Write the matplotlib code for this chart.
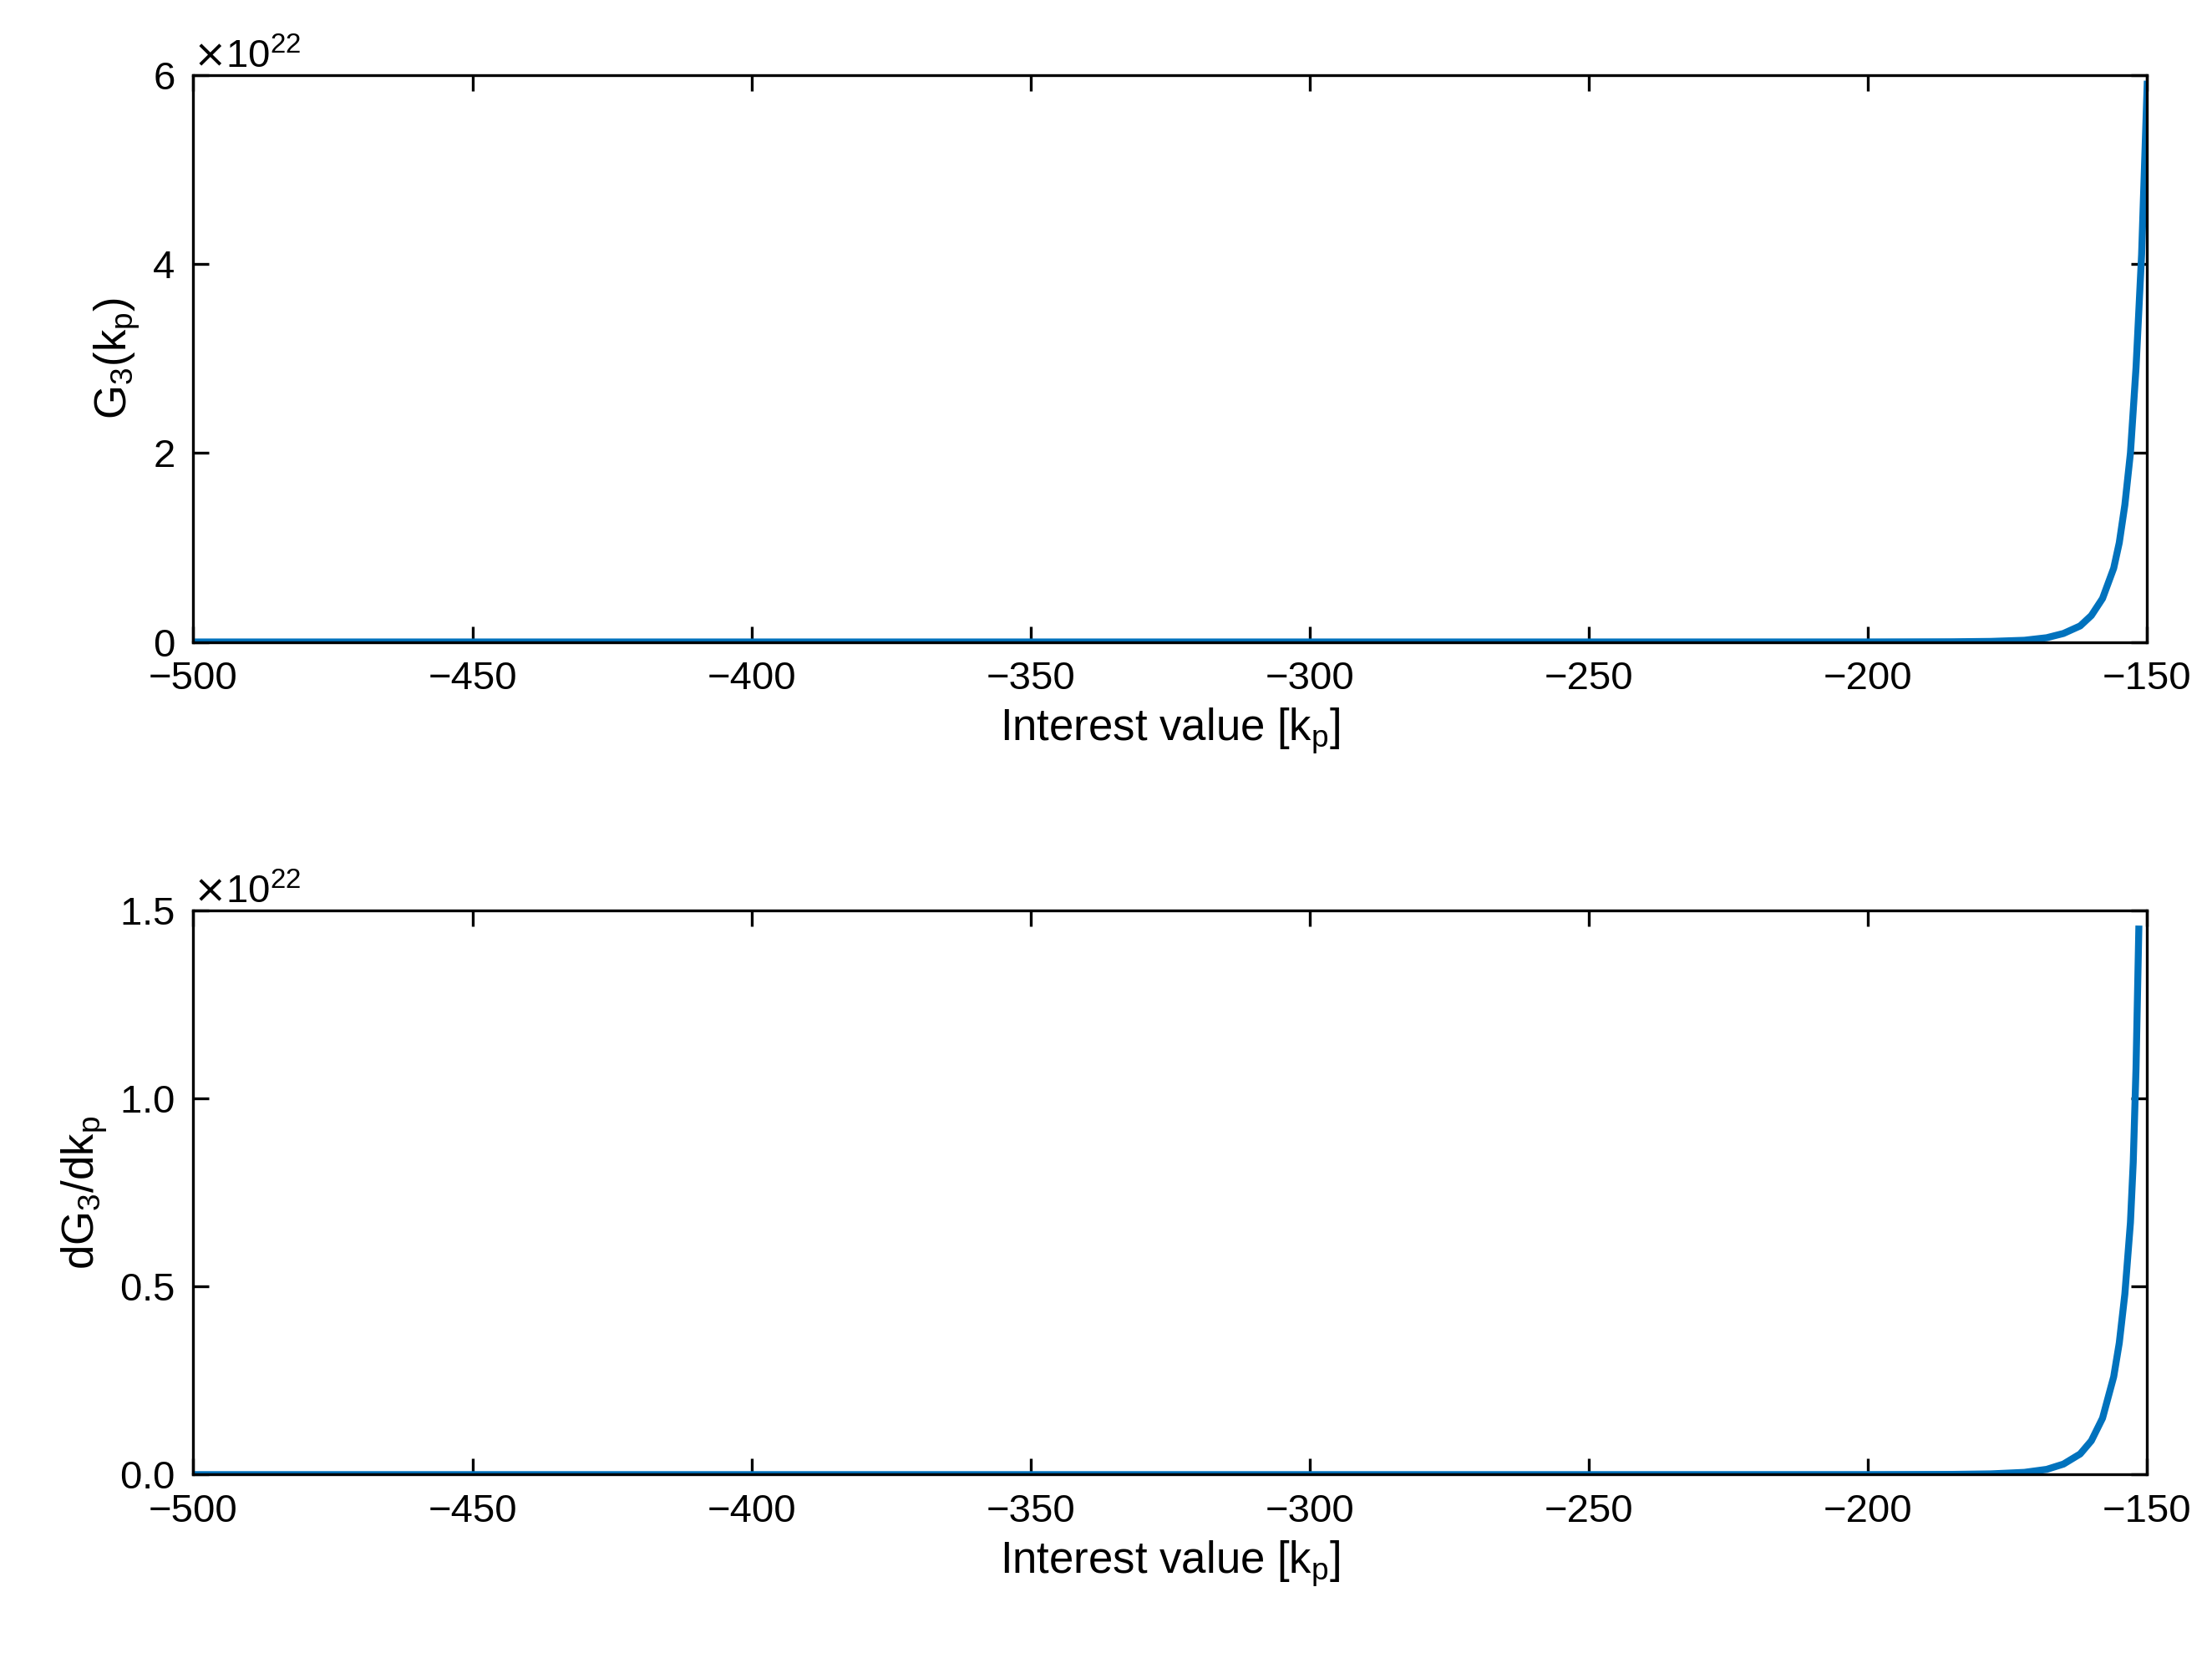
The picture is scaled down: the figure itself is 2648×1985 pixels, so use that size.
import matplotlib.pyplot as plt
import matplotlib.ticker as mticker

plt.rcParams['font.family'] = ['Liberation Sans', 'DejaVu Sans']

# values
kp_top = [-500, -400, -300, -250, -200, -185, -178, -172, -168, -165, -162, -160, -158, -156, -155, -154, -153, -152, -151, -150]
g3 = [0, 0, 0, 0, 0.0003, 0.002, 0.006, 0.018, 0.045, 0.09, 0.17, 0.28, 0.46, 0.78, 1.05, 1.45, 2.0, 2.9, 4.1, 5.9]
kp_bot = [-500, -400, -300, -250, -200, -185, -178, -172, -168, -165, -162, -160, -158, -156, -155, -154, -153, -152.5, -152, -151.5]
dg3 = [0, 0, 0, 0, 0.001, 0.006, 0.02, 0.06, 0.14, 0.28, 0.55, 0.9, 1.5, 2.6, 3.5, 4.8, 6.7, 8.3, 10.8, 14.5]

blue = '#0072BD'
fig = plt.figure(figsize=(13.24, 9.925), dpi=200)
ax1 = fig.add_axes([0.0874, 0.6128, 0.8833, 0.3421])
ax2 = fig.add_axes([0.0874, 0.1106, 0.8833, 0.3404])

def style(ax, ylab, ymax, yticks, exp):
    ax.set_xlim(-500, -150)
    ax.set_ylim(0, ymax)
    ax.set_xticks(range(-500, -149, 50))
    ax.set_yticks([t * 10.0**exp for t in yticks])
    fmt = mticker.ScalarFormatter(useMathText=True)
    fmt.set_powerlimits((0, 0))
    ax.yaxis.set_major_formatter(fmt)
    ax.yaxis.get_offset_text().set_fontsize(17)
    ax.tick_params(direction='in', top=True, right=True, labelsize=17, length=7, width=1.2, pad=8)
    for s in ax.spines.values():
        s.set_linewidth(1.2)
    ax.set_xlabel('Interest value [k$_\\mathregular{p}$]', fontsize=19)
    ax.set_ylabel(ylab, fontsize=19)

ax1.plot(kp_top, [v * 1e22 for v in g3], color=blue, lw=3)
style(ax1, 'G$_\\mathregular{3}$(k$_\\mathregular{p}$)', 6e22, [0, 2, 4, 6], 22)
ax2.plot(kp_bot, [v * 1e21 for v in dg3], color=blue, lw=3)
style(ax2, 'dG$_\\mathregular{3}$/dk$_\\mathregular{p}$', 15e21, [0, 5, 10, 15], 21)

fig.savefig('out.png')
